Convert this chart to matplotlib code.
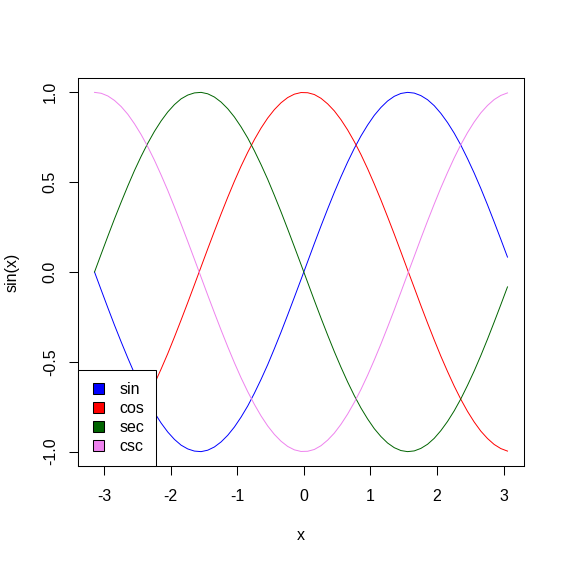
import matplotlib
matplotlib.use("Agg")
import matplotlib.pyplot as plt
from matplotlib.patches import Patch, Rectangle
from matplotlib.legend_handler import HandlerPatch

x = [-3.142, -3.042, -2.942, -2.842, -2.742, -2.642, -2.542, -2.442, -2.342, -2.242,
     -2.142, -2.042, -1.942, -1.842, -1.742, -1.642, -1.542, -1.442, -1.342, -1.242,
     -1.142, -1.042, -0.942, -0.842, -0.742, -0.642, -0.542, -0.442, -0.342, -0.242,
     -0.142, -0.042, 0.058, 0.158, 0.258, 0.358, 0.458, 0.558, 0.658, 0.758,
     0.858, 0.958, 1.058, 1.158, 1.258, 1.358, 1.458, 1.558, 1.658, 1.758,
     1.858, 1.958, 2.058, 2.158, 2.258, 2.358, 2.458, 2.558, 2.658, 2.758,
     2.858, 2.958, 3.058]

sin_vals = [0.000, -0.100, -0.199, -0.296, -0.389, -0.479, -0.565, -0.644, -0.717, -0.783,
            -0.841, -0.891, -0.932, -0.964, -0.985, -0.997, -1.000, -0.992, -0.974, -0.946,
            -0.909, -0.863, -0.808, -0.746, -0.675, -0.598, -0.516, -0.427, -0.335, -0.239,
            -0.141, -0.042, 0.058, 0.158, 0.256, 0.351, 0.443, 0.530, 0.612, 0.688,
            0.757, 0.818, 0.872, 0.916, 0.952, 0.978, 0.994, 1.000, 0.996, 0.982,
            0.959, 0.926, 0.883, 0.832, 0.773, 0.706, 0.631, 0.551, 0.465, 0.374,
            0.279, 0.182, 0.083]

cos_vals = [-1.000, -0.995, -0.980, -0.955, -0.921, -0.878, -0.825, -0.765, -0.697, -0.622,
            -0.540, -0.454, -0.362, -0.267, -0.170, -0.071, 0.029, 0.129, 0.227, 0.323,
            0.416, 0.505, 0.589, 0.666, 0.737, 0.801, 0.857, 0.904, 0.942, 0.971,
            0.990, 0.999, 0.998, 0.988, 0.967, 0.936, 0.897, 0.848, 0.791, 0.726,
            0.654, 0.575, 0.490, 0.401, 0.307, 0.211, 0.112, 0.012, -0.087, -0.187,
            -0.284, -0.378, -0.469, -0.554, -0.635, -0.709, -0.776, -0.835, -0.886, -0.927,
            -0.960, -0.983, -0.997]

sec_vals = [0.000, 0.100, 0.199, 0.296, 0.389, 0.479, 0.565, 0.644, 0.717, 0.783,
            0.841, 0.891, 0.932, 0.964, 0.985, 0.997, 1.000, 0.992, 0.974, 0.946,
            0.909, 0.863, 0.808, 0.746, 0.675, 0.598, 0.516, 0.427, 0.335, 0.239,
            0.141, 0.042, -0.058, -0.158, -0.256, -0.351, -0.443, -0.530, -0.612, -0.688,
            -0.757, -0.818, -0.872, -0.916, -0.952, -0.978, -0.994, -1.000, -0.996, -0.982,
            -0.959, -0.926, -0.883, -0.832, -0.773, -0.706, -0.631, -0.551, -0.465, -0.374,
            -0.279, -0.182, -0.083]

csc_vals = [1.000, 0.995, 0.980, 0.955, 0.921, 0.878, 0.825, 0.765, 0.697, 0.622,
            0.540, 0.454, 0.362, 0.267, 0.170, 0.071, -0.029, -0.129, -0.227, -0.323,
            -0.416, -0.505, -0.589, -0.666, -0.737, -0.801, -0.857, -0.904, -0.942, -0.971,
            -0.990, -0.999, -0.998, -0.988, -0.967, -0.936, -0.897, -0.848, -0.791, -0.726,
            -0.654, -0.575, -0.490, -0.401, -0.307, -0.211, -0.112, -0.012, 0.087, 0.187,
            0.284, 0.378, 0.469, 0.554, 0.635, 0.709, 0.776, 0.835, 0.886, 0.927,
            0.960, 0.983, 0.997]

series_names = ["sin", "cos", "sec", "csc"]
series_colors = ["#0000FF", "#FF0000", "#006400", "#EE82EE"]
x_ticks = [-3, -2, -1, 0, 1, 2, 3]
y_ticks = [-1.0, -0.5, 0.0, 0.5, 1.0]
y_ticklabels = ["-1.0", "-0.5", "0.0", "0.5", "1.0"]

plt.rcParams['font.family'] = ['Liberation Sans', 'DejaVu Sans']
FS = 11.5

fig = plt.figure(figsize=(5.65, 5.64), dpi=100)
ax = fig.add_axes([78/565, (564-466)/564, (524-78)/565, (466-78)/564])

for vals, col in zip([sin_vals, cos_vals, sec_vals, csc_vals], series_colors):
    ax.plot(x, vals, color=col, linewidth=0.7)

ax.set_xlim(-3.390, 3.306)
ax.set_ylim(-1.08, 1.08)
ax.set_xticks(x_ticks)
ax.set_xticklabels([str(t) for t in x_ticks], fontsize=FS)
ax.set_yticks(y_ticks)
ax.set_yticklabels(y_ticklabels, fontsize=FS, rotation=90, va='center')
ax.tick_params(axis='both', direction='out', length=6.5, width=0.75, color='black', pad=10)
ax.tick_params(axis='y', pad=8)
for s in ax.spines.values():
    s.set_linewidth(0.75)
    s.set_color('black')

ax.set_xlabel("x", fontsize=FS, labelpad=17)
ax.set_ylabel("sin(x)", fontsize=FS, labelpad=17)


def square_right(legend, orig_handle, xdescent, ydescent, width, height, fontsize):
    side = height
    return Rectangle((-xdescent + width - side, -ydescent), side, side)


handles = [Patch(facecolor=c, edgecolor='black', linewidth=0.75) for c in series_colors]
leg = ax.legend(handles, series_names, loc='lower left', bbox_to_anchor=(0, 0),
                borderaxespad=0, fontsize=FS, frameon=True, fancybox=False,
                handlelength=0.9, handleheight=0.69, handletextpad=0.95,
                labelspacing=0.25, borderpad=0.75,
                handler_map={Patch: HandlerPatch(patch_func=square_right)})
leg.get_frame().set_edgecolor('black')
leg.get_frame().set_linewidth(0.75)
leg.get_frame().set_facecolor('white')
leg.get_frame().set_alpha(1)

fig.savefig("out.png", dpi=100, facecolor='white')
